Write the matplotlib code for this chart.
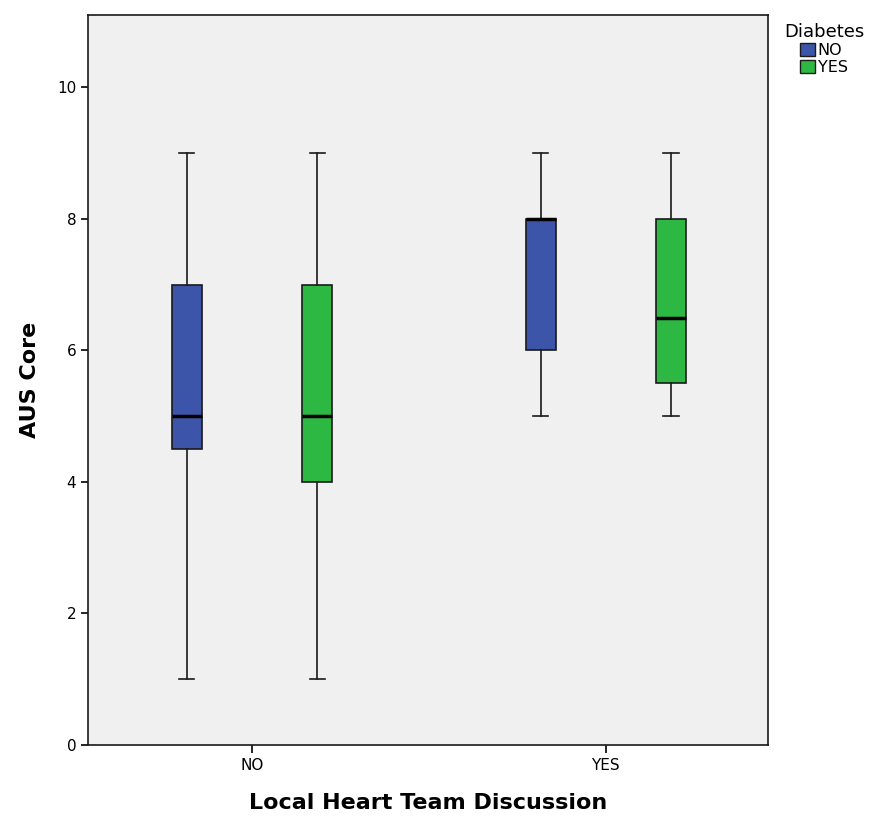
import matplotlib
matplotlib.use("Agg")
import matplotlib.pyplot as plt
from matplotlib.patches import Patch

# data
groups = ["NO", "YES"]
diabetes = ["NO", "YES"]
colours = ["#3d55a9", "#2db843"]
# per group, per diabetes level: (whislo, q1, med, q3, whishi)
stats_no = [(1, 4.5, 5, 7, 9), (1, 4, 5, 7, 9)]
stats_yes = [(5, 6, 8, 8, 9), (5, 5.5, 6.5, 8, 9)]
all_stats = [stats_no, stats_yes]

fig = plt.figure(figsize=(8.74, 8.16), dpi=100)
ax = fig.add_axes([0.1007, 0.087, 0.778, 0.8946])
ax.set_facecolor("#f0f0f0")

offset = 0.184
width = 0.085
for gi, gstats in enumerate(all_stats):
    for di, s in enumerate(gstats):
        st = [dict(whislo=s[0], q1=s[1], med=s[2], q3=s[3], whishi=s[4], fliers=[])]
        pos = gi + (offset if di == 1 else -offset)
        b = ax.bxp(st, positions=[pos], widths=width, patch_artist=True,
                   showfliers=False, manage_ticks=False,
                   boxprops=dict(facecolor=colours[di], edgecolor="#1a1a1a", linewidth=1.2),
                   medianprops=dict(color="black", linewidth=2.5),
                   whiskerprops=dict(color="#1a1a1a", linewidth=1.2),
                   capprops=dict(color="#1a1a1a", linewidth=1.2))
        for cap in b["caps"]:
            x0, x1 = cap.get_xdata()
            c = (x0 + x1) / 2
            cap.set_xdata([c - width / 4, c + width / 4])

ax.set_xlim(-0.463, 1.458)
ax.set_ylim(0, 11.1)
ax.set_xticks(range(len(groups)))
ax.set_xticklabels(groups, fontsize=11)
ax.set_yticks([0, 2, 4, 6, 8, 10])
ax.tick_params(axis="y", labelsize=11, length=5, width=1.2)
ax.tick_params(axis="x", length=6, width=1.2)
for sp in ax.spines.values():
    sp.set_linewidth(1.2)
    sp.set_color("#1a1a1a")
ax.set_ylabel("AUS Core", fontsize=16, fontweight="bold", labelpad=12)
ax.set_xlabel("Local Heart Team Discussion", fontsize=16, fontweight="bold", labelpad=14)

handles = [Patch(facecolor=colours[i], edgecolor="#1a1a1a", label=diabetes[i]) for i in range(2)]
fig.legend(handles=handles, title="Diabetes", loc="upper left",
           bbox_to_anchor=(0.884, 0.985), frameon=False, fontsize=11.5,
           title_fontsize=13, handlelength=0.9, handleheight=0.9,
           handletextpad=0.2, labelspacing=0.1, borderpad=0.2)

fig.savefig("out.png", dpi=100, facecolor="white")
